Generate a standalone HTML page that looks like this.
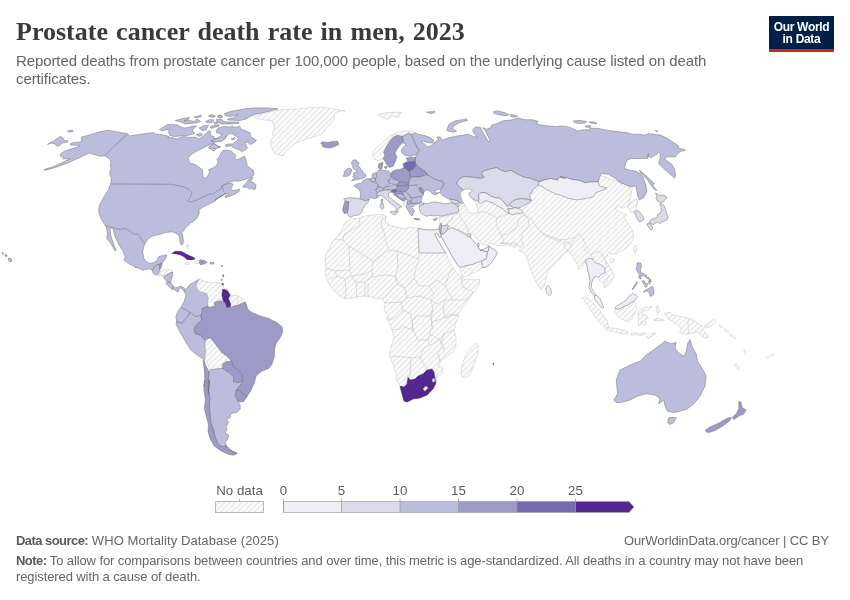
<!DOCTYPE html>
<html lang="en">
<head>
<meta charset="utf-8">
<title>Prostate cancer death rate in men, 2023</title>
<style>
html,body{margin:0;padding:0;background:#fff;}
body{width:850px;height:600px;position:relative;overflow:hidden;font-family:"Liberation Sans",sans-serif;color:#5b5b5b;}
#title{position:absolute;left:16px;top:17px;font-family:"Liberation Serif",serif;font-weight:bold;font-size:26px;line-height:30px;color:#3a3a3a;word-spacing:1.67px;white-space:nowrap;transform-origin:0 50%;}
#subtitle{position:absolute;left:16px;top:52px;font-size:15px;line-height:18px;color:#666;letter-spacing:-0.1px;white-space:nowrap;}
#logo{position:absolute;left:769px;top:16px;width:65px;height:33px;background:#002147;border-bottom:3px solid #ce261e;color:#fff;font-weight:bold;font-size:12px;line-height:12px;text-align:center;letter-spacing:-0.3px;}
#logo span{display:block;}
#logo span:first-child{margin-top:5px;}
.foot{position:absolute;font-size:13px;color:#666;white-space:nowrap;line-height:15.6px;letter-spacing:-0.1px;}
.foot b{color:#5b5b5b;letter-spacing:-0.55px;}
#f1{letter-spacing:0.07px;}
#map{position:absolute;left:0;top:0;}
</style>
</head>
<body>
<svg id="map" width="850" height="600" viewBox="0 0 850 600">
<defs>
<pattern id="hatch" patternUnits="userSpaceOnUse" width="4" height="4" patternTransform="rotate(45)">
<rect width="4" height="4" fill="#fff"/>
<line x1="2" y1="-1" x2="2" y2="5" stroke="#e6e6e6" stroke-width="1.5"/>
</pattern>
</defs>
<g id="countries">
<path d="M439.9,215.9 439,220.9 439.4,225.1 438.7,229.3 440.7,235.1 443.2,240.1 447.4,247.6 451.6,255.2 456.6,263.5 459.9,267.7 460.8,272.7 462.4,277.7 467.4,276 475.8,271.9 482.5,267.7 486.6,266.9 490.8,263.5 494.2,258.5 497.5,252.7 495,250.2 490.8,247.6 489.2,246 484.1,249.3 480,250.2 477.5,246 474.1,241.8 469.9,236.8 472.4,233.4 476.6,238.5 481.6,243.5 487.5,246 490.8,242.6 494.2,244.3 499.2,246 504.2,245.1 510.9,246 515,247.6 517.6,244.3 500,243.4 505,242.6 510,244.2 515,241.7 517.5,245.9 520.9,247.6 519.2,250.9 523.4,252.6 526.7,256.8 528.4,263.4 530.9,270.1 534.2,278.5 537.6,285.2 540.9,289.3 544.3,286 545.9,280.2 546.8,273.5 550.1,268.5 555.1,263.4 559.3,259.3 562.6,255.1 565.2,252.6 568.5,250.9 571,254.3 572.7,255.9 574.3,260.1 577.7,265.1 578.5,269.3 581.9,268.5 583.5,263.4 585.2,260.9 586.9,265.1 587.7,270.1 589.4,276.8 590.2,281 588.9,286.8 591,286.8 591.9,281.8 593.6,277.6 596.9,276 598.6,277.6 600.2,281.8 603.6,283.5 604.4,287.7 608.6,285.2 612.8,280.2 613.6,274.3 611.1,268.5 606.9,262.6 604.4,258.4 606.9,256.8 608.6,252.6 611.9,254.3 616.9,253.4 623.6,250.1 628.6,245.9 632.8,240.1 633.6,234.2 632,229.2 628.6,224.2 626.1,220 623.5,217.6 626.8,215.1 624.3,213.4 619.3,211.7 615.1,209.2 618.5,205.9 622.6,208.4 626,206.7 628.5,204.2 631,208.4 633.5,210.1 636.8,205 637.7,200.9 633.5,200.9 628.5,203.4 631.8,191.7 627.7,185 600,175 560,172 540,182 500,195 470,195 462,200 455,203 458,210Z" fill="url(#hatch)" stroke="#bdbdbd" stroke-width="0.45" stroke-linejoin="round"/>
<path d="M342,230 344,224 351,219 359,218 365,216 374,215 383,214 386,216 385,221 389,225 397,227 404,229 409,227 418,228.4 425,229.6 433,230 439,229 441,236 440,238 437,233 434.6,234 439,242 443,249 446,253 449,260 453,268 457,273 461,277 463,280 469,279 475,280 480,279 479,285 474,292 468,300 462,308 458,314 459,316 456,322 454,330 456,338 456,346 453,352 446,357 440,362 438,366 443,368 442,374 436,378 436,383 433,389 427,395 420,398 413,399 407,402 404,401 402,394 400,386 397,381 396,374 393,364 389.6,356 390,351 392,344 394,337 392,330 390,324 386,318 390,320 386,314 384,309 385,303 382,298 377,299 372,297 365,296 357,297 351,298 345,299 340,296 335,292 331,287 327,280 325,274 326,268 325,260 326,254 329,249 332,242 337,237Z" fill="url(#hatch)" stroke="#bdbdbd" stroke-width="0.45" stroke-linejoin="round"/>
<path d="M461,372 463,362 466,354 471,348 476,343 478,346 478,353 475,362 472,370 469,376 464,378 461.6,376Z" fill="url(#hatch)" stroke="#bdbdbd" stroke-width="0.45" stroke-linejoin="round"/>
<path d="M634.3,246 636.5,245.5 636.5,251 635.2,253.5 633.5,250.2Z" fill="url(#hatch)" stroke="#bdbdbd" stroke-width="0.45" stroke-linejoin="round"/>
<path d="M610.1,259.3 613.5,258.5 614.3,261 611.8,263.2 609.8,261.8Z" fill="url(#hatch)" stroke="#bdbdbd" stroke-width="0.45" stroke-linejoin="round"/>
<path d="M582.5,297.6 586.7,296.7 592.6,302.6 598.4,309.3 603.4,315.1 607.6,321.8 608.4,327.6 605.9,329.3 600.9,324.3 595.1,316.8 590,309.3 585.9,302.6Z" fill="url(#hatch)" stroke="#bdbdbd" stroke-width="0.45" stroke-linejoin="round"/>
<path d="M605.9,327.6 613.4,328.1 620.1,329.3 627.6,331.8 628.5,333.8 621.8,333.5 613.4,331.5 606.8,330.2Z" fill="url(#hatch)" stroke="#bdbdbd" stroke-width="0.45" stroke-linejoin="round"/>
<path d="M631,333.5 636,332.7 636.8,334.3 631.8,335.2Z" fill="url(#hatch)" stroke="#bdbdbd" stroke-width="0.45" stroke-linejoin="round"/>
<path d="M637.7,333.5 645.2,332.7 646,334.3 638.5,336Z" fill="url(#hatch)" stroke="#bdbdbd" stroke-width="0.45" stroke-linejoin="round"/>
<path d="M646,337.7 651,333.5 656,332.7 653.5,335.2 648.5,338.5Z" fill="url(#hatch)" stroke="#bdbdbd" stroke-width="0.45" stroke-linejoin="round"/>
<path d="M615.1,307.6 616.8,309.3 619.3,308.8 623.5,306.8 627.6,305.1 631,302.6 634.3,300.9 636,304.3 636.8,309.3 634.3,314.3 632.6,318.5 628.5,321.8 621.8,319.3 617.6,316 614.8,311.8Z" fill="url(#hatch)" stroke="#bdbdbd" stroke-width="0.45" stroke-linejoin="round"/>
<path d="M637.7,313.4 640.2,309.3 645.2,307.6 651.9,306.8 648.5,309.8 643.5,310.9 641.8,314.3 646,315.1 648.5,318.5 645.2,319.3 646,324.3 643.5,325.1 641.8,321 640.2,325.1 638.2,325.1 638.5,319.3Z" fill="url(#hatch)" stroke="#bdbdbd" stroke-width="0.45" stroke-linejoin="round"/>
<path d="M656,306.8 658.2,305.9 659.4,311.8 657.7,313.4 656.5,310.1Z" fill="url(#hatch)" stroke="#bdbdbd" stroke-width="0.45" stroke-linejoin="round"/>
<path d="M653.5,319.3 656.9,318.5 660.2,318.8 663.6,319.3 664.4,321 658.5,320.5 654.4,320.5Z" fill="url(#hatch)" stroke="#bdbdbd" stroke-width="0.45" stroke-linejoin="round"/>
<path d="M664.4,313.4 670.2,312.1 672.7,315.1 678.6,316 686.9,317.6 694.5,321 702,326 703.6,330.2 708.7,336.8 706.2,338.5 700.3,335.2 697,331.8 691.1,333.5 685.3,334.3 679.4,332.7 681.9,329.3 676.9,325.1 671.9,321 667.7,318.5Z" fill="url(#hatch)" stroke="#bdbdbd" stroke-width="0.45" stroke-linejoin="round"/>
<path d="M687.8,318.1 688.6,333.8" fill="none" stroke="#bdbdbd" stroke-width="0.45"/>
<path d="M704.5,326.5 709.5,325.1 712,323.1 712.8,324.3 710.3,326.5 705.3,327.8Z" fill="url(#hatch)" stroke="#bdbdbd" stroke-width="0.45" stroke-linejoin="round"/>
<path d="M629.4,203.8 633.8,200 636.9,199.4 637.5,203.8 635.6,207.5 636.9,210 634.4,211.9 631.2,212.5 629.4,208.8 626.9,206.9Z" fill="url(#hatch)" stroke="#bdbdbd" stroke-width="0.45" stroke-linejoin="round"/>
<path d="M411.2,134.4 415,132.8 418.8,134.4 425,135.6 430,137.5 433.8,140 432.5,143.1 427.5,142.5 423.8,141.2 421.2,141.9 425,144.4 427.5,146.9 431.2,145.6 433.8,143.1 436.2,141.2 438.8,140 436.9,136.9 440,136.9 442.5,140 443.2,140.1 449.1,137.6 457.4,135.9 463.3,135.1 467.4,134.2 472.4,135.9 477.5,137.6 474.1,133.4 472.4,130.1 475.8,126.7 480.5,127.6 482.5,131.7 485.1,135.9 487.5,140.1 488.7,141.8 489.7,139.8 487.1,134.7 485,130.4 482.8,127.6 486.6,129.2 490.8,127.6 491.7,125.1 497.5,123.4 502.5,120.9 510.9,120 518.4,118 524.2,119.7 532.6,119.7 538.4,121.4 535.9,123.4 540.9,125.1 549.3,125.9 557.6,126.7 560,125.9 566.7,126.4 572.5,128.4 577.5,130.9 583.4,129.7 589.2,130.1 590.1,128.1 598.4,128.4 608.4,130.4 618.5,131.7 626.8,132.6 631.8,134.2 638.5,134.2 645.2,135.1 648.5,133.4 653.6,134.2 660.2,135.1 666.9,138.1 673.6,142.6 678.6,145.9 677.8,147.6 685.3,150.1 680.3,151.5 676.9,154.3 675.3,156.8 668.6,156.8 664.4,157.6 666.9,161 671.1,163.5 674.4,168.5 675.3,173.5 674.9,178.2 670.3,174.3 663.6,168.5 658.6,163.5 660.2,158.5 660.2,153.5 657.7,151.8 656.9,154.3 651,157.6 647.7,156 648.5,153.8 647.7,158.5 640.2,158.5 631.8,158.5 626.8,160.1 625.2,165.2 624.3,168.5 630.2,170.2 635.2,171 640.2,173.5 643.5,178.5 646,185.2 646.9,191.9 643.5,197.7 639.4,199.9 637.7,196.1 636.8,191 636,186 630.2,186.9 625.2,184.4 620.1,182.7 615.1,178.5 608.4,174.3 600.9,173.5 599.3,177.7 598.4,181.9 591.7,181.9 585.1,182.7 578.4,180.2 571.7,179.4 566.7,177.7 560,176.8 557.6,180.2 551,178.5 544.3,179.9 539.3,181.9 530.9,178.5 522.6,176.8 516.7,173.5 510.9,170.2 505.9,171.8 500.8,170.2 496.7,167.7 490.8,168.8 483.3,171 481.6,173.5 484.1,177.2 480.8,178.5 472.4,177.2 464.1,176.5 459.9,178.5 458.2,180.2 456.7,183.3 458.3,185.8 460.8,187.9 463.3,190 464.2,190.6 461.7,192.5 460,195 460.8,197.5 463.3,199.2 465,202.5 463.3,203.3 460,202.9 458.3,201.2 454.2,200 450,199.2 449.2,199.2 445.8,197.5 442.5,195.4 440,192.5 440.8,190.4 440,189.2 441.7,187.9 443.3,185.8 443.8,182.9 441.7,181.2 436.7,180 432.5,178.3 430,176.2 426.7,175 426.9,175 425,171.2 420,168.1 416.2,165 415,161.2 415.6,157.5 416.2,154.4 419.4,150.6 417.5,148.1 415.6,144.4 413.1,138.8Z" fill="#bcbddc" stroke="#666666" stroke-width="0.45" stroke-linejoin="round"/>
<path d="M446.6,130.1 449.1,124.2 454.9,120.9 466.6,118.9 467.4,120.4 459.9,122.6 454.9,125.1 452.4,128.4 456.6,131.4 453.2,132.1 449.1,131.4Z" fill="#bcbddc" stroke="#666666" stroke-width="0.45" stroke-linejoin="round"/>
<path d="M426.5,112 434.9,111.4 434,113 429.8,113.4Z" fill="#bcbddc" stroke="#666666" stroke-width="0.45" stroke-linejoin="round"/>
<path d="M493.3,111.7 497.5,110.9 504.2,112.5 509.2,114.7 506.7,115.9 499.2,114.7 494.2,113.4Z" fill="#bcbddc" stroke="#666666" stroke-width="0.45" stroke-linejoin="round"/>
<path d="M510.5,114.7 515,115 517.6,116.7 513.4,117.2 510.5,116.4Z" fill="#bcbddc" stroke="#666666" stroke-width="0.45" stroke-linejoin="round"/>
<path d="M573.4,120.9 580,120.4 586.7,121.4 585.1,123.1 578.4,123.4 574.2,122.6Z" fill="#bcbddc" stroke="#666666" stroke-width="0.45" stroke-linejoin="round"/>
<path d="M589.2,121.7 595.9,122.2 596.8,123.7 590.1,123.1Z" fill="#bcbddc" stroke="#666666" stroke-width="0.45" stroke-linejoin="round"/>
<path d="M585.1,125.9 590.9,125.4 590.1,127.6 585.9,127.1Z" fill="#bcbddc" stroke="#666666" stroke-width="0.45" stroke-linejoin="round"/>
<path d="M655.2,130.4 657.7,130.9 656.9,132.1Z" fill="#bcbddc" stroke="#666666" stroke-width="0.45" stroke-linejoin="round"/>
<path d="M639.4,170 643.1,173.1 650,179.4 654.4,183.8 652.5,185 656.9,190.6 655,190 651.2,185.6 647.5,180 643.8,176.2 641.2,173.8Z" fill="#bcbddc" stroke="#666666" stroke-width="0.45" stroke-linejoin="round"/>
<path d="M47.5,144.4 51.9,141.9 60.6,136.2 63.1,138.1 64.4,140.6 67.5,140.6 67.5,142.2 62.5,143.1 59.4,145.6 56.9,146.2 54.4,143.8 51.9,143.1Z" fill="#bcbddc" stroke="#666666" stroke-width="0.45" stroke-linejoin="round"/>
<path d="M67.5,131 72.5,130 73.1,131.2 68.8,132Z" fill="#bcbddc" stroke="#666666" stroke-width="0.45" stroke-linejoin="round"/>
<path d="M458.2,180.2 459.9,178.5 464.1,176.5 472.4,177.2 480.8,178.5 484.1,177.2 481.6,173.5 483.3,171 490.8,168.8 496.7,167.7 500.8,170.2 505.9,171.8 510.9,170.2 516.7,173.5 522.6,176.8 530.9,178.5 539.3,181.9 541.5,182.4 539.1,184.7 536.2,187.6 532.6,190 532.1,192.9 529.1,194.7 530.3,197.6 531.5,200.6 527.9,199.4 522.1,198.6 516.2,199.4 512.6,201.2 510.9,202.9 509.1,204.7 507.4,206.5 504.4,202.9 502.1,200.6 499.7,198.2 495,197.6 491.5,196.5 486.8,193.5 483.2,192.4 480.3,193.2 478.5,194.7 479.1,198.8 478.5,201.8 472.6,198.8 469.1,195.9 468.5,192.9 471.5,191.8 472.1,190 467.9,188.8 463.2,190 462.1,190.6 464.2,190.6 463.3,190 460.8,187.9 458.3,185.8 456.7,183.3Z" fill="#dadaeb" stroke="#666666" stroke-width="0.45" stroke-linejoin="round"/>
<path d="M478.5,194.7 480.3,193.2 483.2,192.4 486.8,193.5 491.5,196.5 495,197.6 499.7,198.2 502.1,200.6 504.4,202.9 507.4,206.5 509.1,204.7 511.5,206.5 513.8,207.6 512.6,208.8 509.7,208.8 507.9,208.2 508.5,211.2 509.7,213.5 506.8,212.9 504.4,210 500.9,207.6 496.2,205.3 492.6,202.9 489.1,201.8 486.2,200.6 483.2,201.8 480.3,203.5 478.5,201.8 479.1,198.8Z" fill="#efedf5" stroke="#666666" stroke-width="0.45" stroke-linejoin="round"/>
<path d="M509.1,204.7 510.9,202.9 512.6,201.2 516.2,199.4 522.1,198.6 527.9,199.4 531.5,200.6 529.1,202.9 524.4,205.3 520.9,207.1 517.4,208.2 513.8,207.6 511.5,206.5Z" fill="#dadaeb" stroke="#666666" stroke-width="0.45" stroke-linejoin="round"/>
<path d="M509.7,208.8 512.6,208.8 513.8,207.6 517.4,208.2 520.9,209.4 523.2,212.4 520.3,214.1 516.2,212.9 513.2,214.7 510.3,214.1 508.5,211.2 507.9,208.2Z" fill="#efedf5" stroke="#666666" stroke-width="0.45" stroke-linejoin="round"/>
<path d="M539.3,181.9 544.3,179.9 551,178.5 557.6,180.2 559.3,177.2 565.7,178.5 560,176.8 566.7,177.7 571.7,179.4 578.4,180.2 585.1,182.7 591.7,181.9 598.4,181.9 599.3,186 606.8,187.7 602.6,190.2 595.9,192.7 593.4,196.9 585.1,198.6 576.7,199.9 568.4,198.4 560,195 556,194.2 547.6,190 539.3,185 537.6,185.2Z" fill="#efedf5" stroke="#666666" stroke-width="0.45" stroke-linejoin="round"/>
<path d="M450,199.2 454.2,200 458.3,201.2 460,202.9 457.5,203.3 455,203.8 451.7,202.9 450.8,201.2Z" fill="#dadaeb" stroke="#666666" stroke-width="0.45" stroke-linejoin="round"/>
<path d="M455.4,204.2 457.5,203.3 459.6,205.8 457.9,206.7 456.2,205.4Z" fill="#dadaeb" stroke="#666666" stroke-width="0.45" stroke-linejoin="round"/>
<path d="M419.2,206.7 420.8,204.2 425,203.3 429.2,203.3 432.5,202.1 436.7,202.1 440.8,202.9 445,203.8 449.2,203.3 451.7,202.9 455,203.8 456.2,205.4 457.9,206.7 458.8,209.2 458.3,211.7 456.7,212.5 453.3,213.3 449.2,214.2 445,215.4 441.7,216.2 438.3,215.4 434.2,215.8 430,215.4 426.7,216.2 423.3,215 420.8,212.5 419.6,210Z" fill="#dadaeb" stroke="#666666" stroke-width="0.45" stroke-linejoin="round"/>
<path d="M438.8,229.2 440,225 441.2,222.9 441.7,225.8 441.2,229.2 440.8,233.3 440,234.2 439.2,231.7Z" fill="#bcbddc" stroke="#666666" stroke-width="0.45" stroke-linejoin="round"/>
<path d="M441.7,225.8 445,225.4 447.5,224.6 448.8,226.2 447.1,227.9 448.3,229.2 445.8,231.2 443.8,233.3 441.2,234.2 440.8,233.3 441.2,229.2Z" fill="#dadaeb" stroke="#666666" stroke-width="0.45" stroke-linejoin="round"/>
<path d="M440.7,235.1 444,233.4 448.2,229.3 451.6,227.6 459.1,230.9 466.6,235.1 469.9,236.8 474.1,241.8 477.5,246 480,250.2 487.5,251.8 486.6,258.5 481.6,261 472.4,264.4 464.9,266 459.9,267.7 456.6,263.5 451.6,255.2 447.4,247.6 443.2,240.1Z" fill="#efedf5" stroke="#666666" stroke-width="0.45" stroke-linejoin="round"/>
<path d="M467.8,233.4 470.8,234.3 469.9,236.8 467.1,236Z" fill="#efedf5" stroke="#666666" stroke-width="0.45" stroke-linejoin="round"/>
<path d="M477.5,243.5 479.1,243.1 479.1,246.5 477.8,246.5Z" fill="#efedf5" stroke="#666666" stroke-width="0.45" stroke-linejoin="round"/>
<path d="M480,250.2 484.1,249.3 489.2,246 488.3,251 487.5,251.8Z" fill="#efedf5" stroke="#666666" stroke-width="0.45" stroke-linejoin="round"/>
<path d="M487.5,251.8 488.3,251 489.2,246 490.8,247.6 495,250.2 497.5,252.7 494.2,258.5 490.8,263.5 486.6,266.9 482.5,267.7 481.6,261 486.6,258.5Z" fill="#efedf5" stroke="#666666" stroke-width="0.45" stroke-linejoin="round"/>
<path d="M418,228.4 425,229.6 433,230 439,229 441,236 440,238 437,233 434.6,234 439,242 443,249 446,253 419,253Z" fill="#efedf5" stroke="#666666" stroke-width="0.45" stroke-linejoin="round"/>
<path d="M655.5,193 657,194 660,195.5 664,195 665.5,196 667,198 664.5,199.5 664,201.5 660.5,202.5 657.5,201 656,198.5 657,196Z" fill="#dadaeb" stroke="#666666" stroke-width="0.45" stroke-linejoin="round"/>
<path d="M659.5,204 662,203.5 664.5,206.5 665.5,209.5 666.5,213 668,217.5 667,220 664,221 662,222 660,223.5 658,222 657.5,222 655,223.5 654,224.5 651.5,224 649,222.5 651,219.5 654,218.5 657,217.5 657.5,214.5 660,213.5 661.5,210.5 661,207Z" fill="#dadaeb" stroke="#666666" stroke-width="0.45" stroke-linejoin="round"/>
<path d="M646.5,224 649,223 651,224.5 652.5,227.5 652,230 650.5,229.5 648.5,227Z" fill="#dadaeb" stroke="#666666" stroke-width="0.45" stroke-linejoin="round"/>
<path d="M634.5,212.5 637.5,210.5 640,212.5 642.5,215.5 644,219 641.5,221 639.5,222 637.5,219.5 636,216Z" fill="#dadaeb" stroke="#666666" stroke-width="0.45" stroke-linejoin="round"/>
<path d="M585.2,260.9 588.5,258.4 592.7,258.8 595.2,262.6 600.2,264.3 604.4,267.6 605.2,272.6 601.1,274.3 598.6,277.6 596.9,276 593.6,277.6 591.9,281.8 591,286.8 593.6,291.8 596.1,295.2 594.4,296 591,291.8 588.9,286.8 590.2,281 589.4,276.8 587.7,270.1 586.9,265.1Z" fill="#efedf5" stroke="#666666" stroke-width="0.45" stroke-linejoin="round"/>
<path d="M594.4,296 596.1,295.2 600.2,298.5 602.2,303.5 603.6,307.7 602.2,308.2 598.6,304.4 595.2,300.2Z" fill="#efedf5" stroke="#666666" stroke-width="0.45" stroke-linejoin="round"/>
<path d="M615.1,307.6 619.3,304.3 625.1,300.9 629.3,295.9 632.6,293.4 636,295.1 637.7,297.6 634.3,300.9 631,302.6 627.6,305.1 623.5,306.8 619.3,308.8 616.8,309.3Z" fill="#efedf5" stroke="#666666" stroke-width="0.45" stroke-linejoin="round"/>
<path d="M546.4,286.8 548.4,285.5 551,289.3 551.5,293.5 549.3,295.5 546.8,293.5 545.9,290.2Z" fill="#efedf5" stroke="#666666" stroke-width="0.45" stroke-linejoin="round"/>
<path d="M613.8,400 617.5,393.8 616.2,380 620,370 630,365 640,361.2 646.2,355 655,348.8 660,345 665,341.2 671.2,343.8 676.2,342.5 675,348.8 680,353.8 683.8,356.2 686.2,351.2 687.5,343.8 690,339.5 692.5,347.5 696.2,353.8 697.5,361.2 702.5,368.8 706.2,376.2 705,386.2 700,396.2 693.8,403.8 687.5,408.8 680,411.2 673.8,412.5 667.5,411.2 665,406.2 663.8,400 658.8,403.8 660,398.8 655,395 646.2,393.8 637.5,396.2 630,400 621.2,402.5 616.2,402.5Z" fill="#bcbddc" stroke="#666666" stroke-width="0.45" stroke-linejoin="round"/>
<path d="M668.8,417.5 676.2,417.5 673.8,422.5 670,424.5 667.5,422.5Z" fill="#bcbddc" stroke="#666666" stroke-width="0.45" stroke-linejoin="round"/>
<path d="M738.8,401.2 741.2,402.5 742,407.5 746.2,410 743.8,413.8 738.8,416.2 733.8,419.5 732,417.5 736.2,413.8 738.8,408.8Z" fill="#9e9ac8" stroke="#666666" stroke-width="0.45" stroke-linejoin="round"/>
<path d="M705.5,430 710,427 720,422.5 727.5,418 731.2,417.5 730,420.5 722.5,426.2 715,430.5 708.8,432.5 706.2,432Z" fill="#9e9ac8" stroke="#666666" stroke-width="0.45" stroke-linejoin="round"/>
<path d="M400,386 404,387 407,384 408,377 410,380 415,379 418,376 423,374 427,370 432,369 434,372 435,378 436,383 433,389 427,395 420,398 413,399 407,402 404,401 402,394Z" fill="#54278f" stroke="#3d1c6b" stroke-width="0.45" stroke-linejoin="round"/>
<path d="M423,389 426,386 428,388 425,391Z" fill="#fff" stroke="#bdbdbd" stroke-width="0.45" stroke-linejoin="round"/>
<path d="M432.4,379 434.4,378.4 434.8,381.6 432.8,382Z" fill="#fff" stroke="#bdbdbd" stroke-width="0.45" stroke-linejoin="round"/>
<path d="M492.8,363.2 494,362.8 494,364.4 492.8,364.4Z" fill="#54278f" stroke="none" stroke-width="0.45" stroke-linejoin="round"/>
<path d="M460.3,192.9 463.2,190 467.9,188.8 472.1,190 471.5,191.8 468.5,192.9 469.1,195.9 472.6,199.4 475.6,202.9 477.4,207.6 478.5,211.8 475,213.5 470.3,212.9 467.4,210 465,205.3 462.6,201.2 460.9,197.1Z" fill="#fff" stroke="#b0b0c0" stroke-width="0.45" stroke-linejoin="round"/>
<path d="M439,217 446,216 453,214 459,213" fill="none" stroke="#bdbdbd" stroke-width="0.5"/>
<path d="M453,214 452,220 446,224" fill="none" stroke="#bdbdbd" stroke-width="0.5"/>
<path d="M459,213 461,218 465,224 468,230 469,233" fill="none" stroke="#bdbdbd" stroke-width="0.5"/>
<path d="M446,224 450,227 459,230 467,234" fill="none" stroke="#bdbdbd" stroke-width="0.5"/>
<path d="M477,213 484,211.6 490,214 497,218" fill="none" stroke="#bdbdbd" stroke-width="0.5"/>
<path d="M497,218 496,224 499,231 501,235 504,240 503,244" fill="none" stroke="#bdbdbd" stroke-width="0.5"/>
<path d="M497,218 502,216 508,213.6" fill="none" stroke="#bdbdbd" stroke-width="0.5"/>
<path d="M501,235 508,234 515,229 518,223 519,218 525,215 523,213.6" fill="none" stroke="#bdbdbd" stroke-width="0.5"/>
<path d="M508,213.6 514,215 519,213 523,213.6" fill="none" stroke="#bdbdbd" stroke-width="0.5"/>
<path d="M525,215 529,220 528,227 523,233 521,239 524,246 522,248" fill="none" stroke="#bdbdbd" stroke-width="0.5"/>
<path d="M525,215 532,219 536,226 542,233 551,237 561,240 568,239 575,237" fill="none" stroke="#bdbdbd" stroke-width="0.5"/>
<path d="M542,233 548,237 556,240 561,242 561,240" fill="none" stroke="#bdbdbd" stroke-width="0.5"/>
<path d="M564,243 569,242 571,247 568,251 565,248 564,243" fill="none" stroke="#bdbdbd" stroke-width="0.5"/>
<path d="M571,247 572,243 577,236 580,234" fill="none" stroke="#bdbdbd" stroke-width="0.5"/>
<path d="M580,234 583,239 586,246 589.6,250" fill="none" stroke="#bdbdbd" stroke-width="0.5"/>
<path d="M591,255.1 594.4,252.6 598.6,250.9 601.9,254.3 604.4,258.4" fill="none" stroke="#bdbdbd" stroke-width="0.5"/>
<path d="M591,255.1 592.7,258.8" fill="none" stroke="#bdbdbd" stroke-width="0.5"/>
<path d="M604.4,258.4 606.9,262.6 605.2,270.1 605.2,272.6" fill="none" stroke="#bdbdbd" stroke-width="0.5"/>
<path d="M583.5,246.7 586.9,251.8 591,255.1" fill="none" stroke="#bdbdbd" stroke-width="0.5"/>
<path d="M605.2,272.6 608.6,276 606.9,281 603.6,283.5" fill="none" stroke="#bdbdbd" stroke-width="0.5"/>
<path d="M633.5,210.1 634.8,211.7 637.7,210.1" fill="none" stroke="#bdbdbd" stroke-width="0.5"/>
<path d="M459.9,267.7 464.9,266 472.4,264.4 481.6,261 482.5,267.7" fill="none" stroke="#bdbdbd" stroke-width="0.5"/>
<path d="M359,218 360,225 344,235 343,240" fill="none" stroke="#bdbdbd" stroke-width="0.5"/>
<path d="M335,239 343,240 349,246 350,270 335,271" fill="none" stroke="#bdbdbd" stroke-width="0.5"/>
<path d="M349,246 373,261 389,250 386,243 384,232 381,225 383,214" fill="none" stroke="#bdbdbd" stroke-width="0.5"/>
<path d="M386,216 385,221 389,225" fill="none" stroke="#bdbdbd" stroke-width="0.5"/>
<path d="M389,250 397,251 419,259 419,253" fill="none" stroke="#bdbdbd" stroke-width="0.5"/>
<path d="M373,261 372,270 365,274 351,276 350,270" fill="none" stroke="#bdbdbd" stroke-width="0.5"/>
<path d="M397,251 398,268 395,276 397,280" fill="none" stroke="#bdbdbd" stroke-width="0.5"/>
<path d="M419,259 416,268 414,278 419,286" fill="none" stroke="#bdbdbd" stroke-width="0.5"/>
<path d="M372,270 372,277 385,275 395,276 397,284 391,290 385,298" fill="none" stroke="#bdbdbd" stroke-width="0.5"/>
<path d="M419,286 429,286 437,280 445,286 449,274 453,268" fill="none" stroke="#bdbdbd" stroke-width="0.5"/>
<path d="M445,286 453,300 465,300 473,292 463,287 461,277" fill="none" stroke="#bdbdbd" stroke-width="0.5"/>
<path d="M326,268 335,271 337,276 331,279" fill="none" stroke="#bdbdbd" stroke-width="0.5"/>
<path d="M337,276 345,279 351,276" fill="none" stroke="#bdbdbd" stroke-width="0.5"/>
<path d="M345,279 346,290 345,299" fill="none" stroke="#bdbdbd" stroke-width="0.5"/>
<path d="M351,276 356,282 357,297" fill="none" stroke="#bdbdbd" stroke-width="0.5"/>
<path d="M356,282 365,282 365,296" fill="none" stroke="#bdbdbd" stroke-width="0.5"/>
<path d="M365,282 372,277" fill="none" stroke="#bdbdbd" stroke-width="0.5"/>
<path d="M368,283 368,296.4" fill="none" stroke="#bdbdbd" stroke-width="0.5"/>
<path d="M397,280 405,288 414,278" fill="none" stroke="#bdbdbd" stroke-width="0.5"/>
<path d="M397,284 405,288 407,298 401,302 385,303" fill="none" stroke="#bdbdbd" stroke-width="0.5"/>
<path d="M407,298 419,296 431,300 434,294 429,286" fill="none" stroke="#bdbdbd" stroke-width="0.5"/>
<path d="M431,300 437,304 445,300 453,300" fill="none" stroke="#bdbdbd" stroke-width="0.5"/>
<path d="M445,300 443,310 445,318 457,314" fill="none" stroke="#bdbdbd" stroke-width="0.5"/>
<path d="M431,300 433,310 431,318 433,329.6" fill="none" stroke="#bdbdbd" stroke-width="0.5"/>
<path d="M401,302 403,310 395,318 390,320" fill="none" stroke="#bdbdbd" stroke-width="0.5"/>
<path d="M403,310 411,314 413,329.6" fill="none" stroke="#bdbdbd" stroke-width="0.5"/>
<path d="M390,356 411,357.6 410,377 408,377" fill="none" stroke="#bdbdbd" stroke-width="0.5"/>
<path d="M411,357.6 420,357 427,370" fill="none" stroke="#bdbdbd" stroke-width="0.5"/>
<path d="M420,357 424,348 430,345 428,340 430,334" fill="none" stroke="#bdbdbd" stroke-width="0.5"/>
<path d="M430,345 440,340 442,348 438,353 440,362" fill="none" stroke="#bdbdbd" stroke-width="0.5"/>
<path d="M392,330 400,329 402,326 413,330 418,340 428,340" fill="none" stroke="#bdbdbd" stroke-width="0.5"/>
<path d="M413,330 412,322 416,316 430,316 432,310" fill="none" stroke="#bdbdbd" stroke-width="0.5"/>
<path d="M430,316 432,322 430,334 440,340 444,334 454,330" fill="none" stroke="#bdbdbd" stroke-width="0.5"/>
<path d="M444,334 442,342 445,350 442,348" fill="none" stroke="#bdbdbd" stroke-width="0.5"/>
<path d="M432,322 444,318 450,314 459,316" fill="none" stroke="#bdbdbd" stroke-width="0.5"/>
<path d="M704,325.6 710.3,321.8 714,318.6 716.1,321.8 711.5,325.6 706.5,328.1Z" fill="url(#hatch)" stroke="#d0d0d0" stroke-width="0.45" stroke-linejoin="round"/>
<path d="M719.1,324.3 722.9,326.9 721.6,328.1 718.6,326.1Z" fill="url(#hatch)" stroke="#d0d0d0" stroke-width="0.45" stroke-linejoin="round"/>
<path d="M724.1,328.6 728.6,331.1 727.9,332.6 724.1,330.6Z" fill="url(#hatch)" stroke="#d0d0d0" stroke-width="0.45" stroke-linejoin="round"/>
<path d="M729.7,333.7 734.2,336.2 735.4,338.7 731.7,336.9Z" fill="url(#hatch)" stroke="#d0d0d0" stroke-width="0.45" stroke-linejoin="round"/>
<path d="M743.8,349.5 745,349.5 745.8,354.6 744.3,354.6Z" fill="url(#hatch)" stroke="#d0d0d0" stroke-width="0.45" stroke-linejoin="round"/>
<path d="M734.2,363.9 736.2,363.4 739.7,368.4 738,369.7Z" fill="url(#hatch)" stroke="#d0d0d0" stroke-width="0.45" stroke-linejoin="round"/>
<path d="M766.4,357.1 769.4,355.3 770.7,356.3 767.4,358.8Z" fill="url(#hatch)" stroke="#d0d0d0" stroke-width="0.45" stroke-linejoin="round"/>
<path d="M770.7,354.6 773.7,353.3 774,354.6 771.4,355.8Z" fill="url(#hatch)" stroke="#d0d0d0" stroke-width="0.45" stroke-linejoin="round"/>
<path d="M637,262.9 640.8,262.9 641.5,266.2 640.4,269.2 641.1,272.6 643.8,273.8 646.4,274.9 647.1,277.1 649,277.9 650.9,279.8 651.2,282 650.1,281.6 649,279.4 646.8,278.2 644.9,276.4 642.6,275.6 641.1,276.8 640,275.6 638.9,274.1 637.4,271.5 636.2,269.2 636.9,266.2Z" fill="#bcbddc" stroke="#666666" stroke-width="0.45" stroke-linejoin="round"/>
<path d="M638.5,276 640.4,276.4 641.1,278.6 640,279 638.9,277.5Z" fill="#bcbddc" stroke="#666666" stroke-width="0.45" stroke-linejoin="round"/>
<path d="M642.2,280.5 644.5,281.2 645.2,283.1 647.5,283.5 647.1,285.8 646,287.2 644.9,286.9 644.5,284.6 643,283.5Z" fill="#bcbddc" stroke="#666666" stroke-width="0.45" stroke-linejoin="round"/>
<path d="M648.6,280.9 649.8,281.2 650.1,283.9 649,284.2Z" fill="#bcbddc" stroke="#666666" stroke-width="0.45" stroke-linejoin="round"/>
<path d="M643.4,291.8 645.2,289.9 647.5,289.1 649.8,288 651.6,286.1 653.1,287.2 653.9,290.2 653.9,294 652.8,295.1 651.2,296.6 649.8,295.5 649.4,293.2 648.2,291.8 646.4,291 644.5,292.5Z" fill="#bcbddc" stroke="#666666" stroke-width="0.45" stroke-linejoin="round"/>
<path d="M632.1,289.1 634.8,285 637,281.6 637.6,282.4 635.5,286.1 632.9,289.6Z" fill="#bcbddc" stroke="#666666" stroke-width="0.45" stroke-linejoin="round"/>
<path d="M127.5,133.8 117.5,131.9 108.1,130.2 100,131.6 91.2,134.4 81.9,136.9 81.2,139.4 82.8,141 79.4,141.9 71.2,143 70.2,145 78.8,145.4 80,146.2 72.5,148.5 64.4,151.2 60.2,154 60.6,156.5 63.8,157.5 62.8,159 70.2,158.8 61.2,163.1 52.5,166.9 44.1,169.4 44.8,170.4 56.2,167.2 67.5,163.1 75.6,159.4 83.8,155.6 88.8,153.1 95,154.8 100,156.2 104.8,156 109.4,158.8 111.2,161.9 110,165 111.2,168.5 110,170.6 109.8,175 111.2,177.5 111,182.5 110.9,182.5 108.4,190 103.4,197.6 99.2,205.9 98.7,211.8 100.9,218.4 105,225.1 105.9,226 107.5,233.5 106.7,238.5 110.9,243.5 115.1,251 116.2,250.2 113.4,243.5 110.9,236 110,228.5 112.6,227.6 115.1,236.8 119.2,245.2 123.4,251.9 125.1,256.9 124.2,260.2 128.4,263.6 136.8,267.7 135,267.1 136.7,267.5 140,268.8 142.9,270.4 145.8,269.6 149.2,268.8 152.5,270.4 154.2,267.5 155.4,265.8 160,264.2 162.1,262.9 163.8,261.2 165.8,258.3 166.7,255 162.5,255.4 158.8,256.7 157.1,260 155,262.1 151.7,263.3 148.3,262.9 145.4,261.2 143.8,258.3 143.3,255 142.6,251.9 144.3,245.2 145.1,243.5 147.6,239.3 152.6,236 160.2,234.3 165.2,232.6 171.9,231.8 176.9,233.5 179.4,236.8 180.2,243.5 181.9,245.2 183.6,241.8 182.7,236 181.9,232.6 185.2,228.5 190.2,223.5 196.9,218.4 199.4,212.6 198.6,210.1 203.6,206.8 210.3,203.4 215.3,200.9 217,198.4 223.6,195.1 226.2,193.4 215,200 220,197 224,194 228,193 229,194 225,196 226,197.5 229,196.5 234,194.5 239,191.5 239.5,189 237,190 233,190.5 230.5,189 232,187 233,184 230,183 224,185 221,187 225,184 230,182 235,180.8 240,181 245,179.5 250,177.5 253.5,175.5 254,173 253,170 250,168 247,165 246,160 244.5,156 240,158.5 237,160 235,158.5 235.5,155 234.5,154 232,151.5 227,150 223,150.5 221,153 219,157 217,159.5 218,162.5 216.5,165.5 213,168 208.5,169.5 209.5,172 208,175.5 205,178.2 203,177 202.5,170 199,167 194,164 190,163.5 188,158 192,154 197,151 204,147.5 210,144.5 214,142 220,141 224,139 227,136 226,134.5 222,135.5 218,138 214,139 214,136.5 210,135.5 211,133 210,130.5 207,132.5 204.5,135 202,137 199,139 195,137 190,137.5 184,136.5 180,137.5 177,139 172,137.5 168,138 169,136.5 166,135.5 161,134.5 156,134 153,132.5 150,133 140,134.3 130,135.9Z" fill="#bcbddc" stroke="#666666" stroke-width="0.45" stroke-linejoin="round"/>
<path d="M159.5,129.5 167.5,124.5 177,124.8 180,126.5 184,128 188,127.5 193,126 196.5,126 194,128 192,131 195,133 192,134.5 187,135.5 180,136 174,136.5 170,135.5 168.5,132 169.5,129.5 165,130 162,131Z" fill="#bcbddc" stroke="#666666" stroke-width="0.45" stroke-linejoin="round"/>
<path d="M175.5,120.5 183,118.5 189.5,117.5 188.5,119.5 184,121 190,120.5 194,121.5 196,119.5 198,119.5 200.5,121.5 196,123 190,123.5 185,124 181,122 177,121.2Z" fill="#bcbddc" stroke="#666666" stroke-width="0.45" stroke-linejoin="round"/>
<path d="M194,117 201,115.2 201.5,116.5 197,117.8Z" fill="#bcbddc" stroke="#666666" stroke-width="0.45" stroke-linejoin="round"/>
<path d="M208.5,116 212,114.5 215.5,116 214,117.2 210,117Z" fill="#bcbddc" stroke="#666666" stroke-width="0.45" stroke-linejoin="round"/>
<path d="M218,115.5 220.5,115 222.5,116.5 220,117.5Z" fill="#bcbddc" stroke="#666666" stroke-width="0.45" stroke-linejoin="round"/>
<path d="M205.5,121.5 210,119.5 214,120 212,122.5 207.5,123Z" fill="#bcbddc" stroke="#666666" stroke-width="0.45" stroke-linejoin="round"/>
<path d="M213.5,122.5 217,121.8 218,123 215,124Z" fill="#bcbddc" stroke="#666666" stroke-width="0.45" stroke-linejoin="round"/>
<path d="M199,128 204.5,125.5 208.5,125.5 207,128 206,130 202,130.5Z" fill="#bcbddc" stroke="#666666" stroke-width="0.45" stroke-linejoin="round"/>
<path d="M210,127 215,125 219.5,124.8 219,126 214,127.5 211,128.5Z" fill="#bcbddc" stroke="#666666" stroke-width="0.45" stroke-linejoin="round"/>
<path d="M196.5,134.5 201,133.2 202.5,135 200,136.2 197,135.8Z" fill="#bcbddc" stroke="#666666" stroke-width="0.45" stroke-linejoin="round"/>
<path d="M209,147 213.5,143 217,145.5 220.5,147 215,148 211,149Z" fill="#bcbddc" stroke="#666666" stroke-width="0.45" stroke-linejoin="round"/>
<path d="M212,150.5 215.5,149.5 214,151Z" fill="#bcbddc" stroke="#666666" stroke-width="0.45" stroke-linejoin="round"/>
<path d="M224.5,113.5 230,111.5 236,110.5 243,109 253,108 265,107.8 278,108.8 271,111 262,113 255,114.5 251,116 245,119.5 239,120.5 228,120 227.5,119.2 234,117.5 238,114.5 235,115.5 230,116.5 226,116 224.5,114.5Z" fill="#bcbddc" stroke="#666666" stroke-width="0.45" stroke-linejoin="round"/>
<path d="M217.5,116.5 220.5,115.2 222.5,117 219.5,118Z" fill="#bcbddc" stroke="#666666" stroke-width="0.45" stroke-linejoin="round"/>
<path d="M216.5,119.5 221,119 224,121.5 229,122 239,122 238.5,123.5 230,124 221,124 217,121.5Z" fill="#bcbddc" stroke="#666666" stroke-width="0.45" stroke-linejoin="round"/>
<path d="M216,131 218,128 224,126.5 230,127 233,126 233.5,128 235,127 240,126.5 241,129 246,131 250.5,133 250,136 253,138 256.5,140.5 254,142.5 250.5,144.5 247,142 245,142.5 246,145.5 247.5,148 245,150 242,151.5 238,149.5 233.5,147.5 231.5,146 226,146.5 225,145 228,144 232.5,144 236.5,141 238.5,138.5 236.5,136.5 234,135 233,133.5 229,133.8 226,136 225,139 221,141.5 215,142 211,141 215,139 219,137.5 222,134.5 219,133.5 216.5,132.5Z" fill="#bcbddc" stroke="#666666" stroke-width="0.45" stroke-linejoin="round"/>
<path d="M231,139 234.5,137.5 235.5,138.5 232.5,140Z" fill="#bcbddc" stroke="#666666" stroke-width="0.45" stroke-linejoin="round"/>
<path d="M242.5,186.5 246,183 249,179 252.5,177 252,180 250,181.5 254,182.5 256,185 255.5,189 253,189.5 252,188 249.5,189 247,187 244,187.5Z" fill="#bcbddc" stroke="#666666" stroke-width="0.45" stroke-linejoin="round"/>
<path d="M208.5,147.5 213.5,143.5 217,145.5 220,147.5 215,148.5 210,149Z" fill="#bcbddc" stroke="#666666" stroke-width="0.45" stroke-linejoin="round"/>
<path d="M254.7,117.1 261.8,114.1 271.2,111.2 278.2,110 288.8,109.4 299.4,108.8 311.2,107.6 322.9,107.6 333.5,108.8 339.4,110 345.3,110.8 337.1,111.8 334.7,114.1 334.1,118.8 331.2,123.5 326.5,127.6 324.1,131.8 320.6,134.7 313.5,137.1 306.5,138.8 300.6,141.2 294.7,143.5 290,147.1 285.3,151.8 282.9,155.9 279.4,155.3 274.7,153.5 272.4,149.4 270.6,145.3 271.2,140 273.5,136.5 272.4,132.9 274.7,128.2 273.5,123.5 271.2,120.6 264.1,120 257.1,118.8Z" fill="url(#hatch)" stroke="#bdbdbd" stroke-width="0.45" stroke-linejoin="round"/>
<path d="M320.6,143.5 322.9,141.8 327.6,142.4 332.4,141.4 337.6,141.2 338.8,144.5 334.7,146.5 330,148 325.3,147.6 322.4,146.5 322.9,144.7Z" fill="#9e9ac8" stroke="#666666" stroke-width="0.45" stroke-linejoin="round"/>
<path d="M127.5,133.8 104.4,155.6" fill="none" stroke="#666666" stroke-width="0.45"/>
<path d="M111.4,184 170.2,184.2 176.9,185.4 183.6,186.7 188.6,189.2 191.9,192.6 190.2,197.6 187.7,200.9 190.2,202.1 196.9,200.1 206.9,195.1 213.6,193.4 218.6,190 222.8,187.5 223.6,191.7" fill="none" stroke="#666666" stroke-width="0.45"/>
<path d="M105,225.1 112.6,227.6 118.4,229.3 125.1,228.5 130.1,231 133.4,234.3 137.6,233.5 140.1,236.8 143.5,242.7 145.1,243.5" fill="none" stroke="#666666" stroke-width="0.45"/>
<path d="M8.5,258 11,258.5 12,261 10,262 8.5,260.5Z" fill="#bcbddc" stroke="#666666" stroke-width="0.45" stroke-linejoin="round"/>
<path d="M5,254.5 7,255 7,256.5 5,256Z" fill="#bcbddc" stroke="#666666" stroke-width="0.45" stroke-linejoin="round"/>
<path d="M2,252.5 3.5,253 3.5,254 2,254Z" fill="#bcbddc" stroke="#666666" stroke-width="0.45" stroke-linejoin="round"/>
<path d="M152.5,270.4 154.2,267.5 155.4,265.8 160,264.2 159.6,267.5 160,270 158.8,272.9 157.5,275 154.6,274.6 152.9,272.9Z" fill="#bcbddc" stroke="#666666" stroke-width="0.45" stroke-linejoin="round"/>
<path d="M160,264.2 162.1,262.9 161.7,265.8 160.8,268.3 160,269.2 159.6,267.5Z" fill="#9e9ac8" stroke="#666666" stroke-width="0.45" stroke-linejoin="round"/>
<path d="M157.5,275 158.8,273.8 161.7,275 162.5,276.2 159.2,276.2Z" fill="url(#hatch)" stroke="#bdbdbd" stroke-width="0.45" stroke-linejoin="round"/>
<path d="M158.8,272.9 160.4,270.8 163.3,269.6 168.3,269.2 172.1,270.4 172.9,272.1 170,272.9 167.1,274.6 164.2,276.2 162.5,276.2 161.7,275 158.8,273.8Z" fill="url(#hatch)" stroke="#bdbdbd" stroke-width="0.45" stroke-linejoin="round"/>
<path d="M164.2,276.2 167.1,274.6 170,272.9 172.9,272.1 172.5,275 171.7,279.2 170.4,282.1 167.1,282.1 165.4,280 163.8,277.9Z" fill="#bcbddc" stroke="#666666" stroke-width="0.45" stroke-linejoin="round"/>
<path d="M166.2,282.9 167.1,282.1 170.4,282.1 172.1,284.6 173.3,286.2 172.9,289.2 171.7,289.6 170,287.1 167.9,285.4 166.5,284.6Z" fill="#bcbddc" stroke="#666666" stroke-width="0.45" stroke-linejoin="round"/>
<path d="M172.9,289.2 173.3,286.2 175,287.9 177.5,287.5 180,286.2 182.1,286.7 184.6,288.3 185.4,290.4 184.2,291.7 182.9,289.6 180.8,287.9 178.8,289.2 178.3,291.7 176.2,291.2 174.6,289.6Z" fill="#bcbddc" stroke="#666666" stroke-width="0.45" stroke-linejoin="round"/>
<path d="M171.8,253.4 175.1,251.3 181,251.3 186,253.9 190.2,256 194.3,257.7 194.8,259.2 191,259.9 186.8,259.4 184.3,257 180.1,254.7 176,253.9Z" fill="#54278f" stroke="#3d1c6b" stroke-width="0.45" stroke-linejoin="round"/>
<path d="M194.3,261.7 199.4,260 199.9,263 195.2,263.7Z" fill="url(#hatch)" stroke="#bdbdbd" stroke-width="0.45" stroke-linejoin="round"/>
<path d="M199.9,259.7 204.4,260.4 207.2,262.5 203.5,264.2 200.2,264.7 199.5,262.5Z" fill="#9e9ac8" stroke="#666666" stroke-width="0.45" stroke-linejoin="round"/>
<path d="M185.2,263 188.8,262.5 189.3,264.2 186,264.7Z" fill="url(#hatch)" stroke="#bdbdbd" stroke-width="0.45" stroke-linejoin="round"/>
<path d="M210.2,262.5 213.9,262.5 213.9,264 210.2,264Z" fill="#bcbddc" stroke="#666666" stroke-width="0.45" stroke-linejoin="round"/>
<path d="M221.1,283.4 223.6,283.4 223.2,285.4 221.1,285.1Z" fill="#54278f" stroke="#666666" stroke-width="0.45" stroke-linejoin="round"/>
<path d="M221.6,265.4 222.4,265.4 222.4,266.7 221.6,266.7Z" fill="#9e9ac8" stroke="#666666" stroke-width="0.45" stroke-linejoin="round"/>
<path d="M222.9,274.7 223.7,274.7 223.7,276.7 222.9,276.7Z" fill="#54278f" stroke="#666666" stroke-width="0.45" stroke-linejoin="round"/>
<path d="M221.2,279.2 222.1,279.2 222.1,280.4 221.2,280.4Z" fill="#756bb1" stroke="#666666" stroke-width="0.45" stroke-linejoin="round"/>
<path d="M186.5,245 188.5,245 188.8,248.7 187.2,248.3Z" fill="url(#hatch)" stroke="#bdbdbd" stroke-width="0.45" stroke-linejoin="round"/>
<path d="M184.3,291.8 186,289.3 190.2,284.3 196,280.9 199.4,279.2 197.7,282.6 196,285.9 198.5,290.9 206.9,293.4 208.5,298.5 207.7,303.5 208.5,306.8 203.5,307.6 201.9,311.8 202.7,316.8 201,321 198.5,316.8 193.5,317.7 189.3,312.7 183.5,309.3 181,307.6 184.3,301 186,295.1Z" fill="#bcbddc" stroke="#666666" stroke-width="0.45" stroke-linejoin="round"/>
<path d="M199.4,279.2 203.5,280.9 211,282.6 216.9,282.6 221.9,284.3 224.4,288.4 221.9,293.4 224.4,297.6 220.2,300.1 214.4,302.6 215.2,306.8 211,308.5 208.5,306.8 207.7,303.5 208.5,298.5 206.9,293.4 198.5,290.9 196,285.9 197.7,282.6Z" fill="url(#hatch)" stroke="#bdbdbd" stroke-width="0.45" stroke-linejoin="round"/>
<path d="M222.7,289.3 226.9,290.1 230.3,295.1 228.6,298.5 231.1,303.5 229.9,307.6 226.9,308.1 224.9,303.5 223.2,301 221.9,295.1Z" fill="#54278f" stroke="#3d1c6b" stroke-width="0.45" stroke-linejoin="round"/>
<path d="M230.3,296 236.9,295.1 243.6,299.3 240.3,304.3 235.3,306 231.1,304.3 228.9,298.5Z" fill="url(#hatch)" stroke="#bdbdbd" stroke-width="0.45" stroke-linejoin="round"/>
<path d="M237.8,295.6 236.9,305.5" fill="none" stroke="#c8c8c8" stroke-width="0.45"/>
<path d="M176.7,321.7 181.7,323.4 187.6,316.7 190.1,312.5 185.1,309.2 180.9,307.5 177.5,311.7 175.9,316.7Z" fill="#bcbddc" stroke="#666666" stroke-width="0.45" stroke-linejoin="round"/>
<path d="M175.9,323.4 177.5,327.6 181.7,335.1 186.7,343.4 190.9,350.1 198.4,356 203.8,359.3 205.1,358.5 205.9,351.8 205.1,345.1 205.9,340.1 205.1,340.1 200.1,335.1 195.1,333.4 194.2,328.4 197.6,323.4 201.8,320.9 200.9,315 195.9,316.7 190.1,312.5 187.6,316.7 181.7,323.4 176.7,321.7Z" fill="#bcbddc" stroke="#666666" stroke-width="0.45" stroke-linejoin="round"/>
<path d="M210.1,337.6 215.1,343.4 221.8,352.6 226.8,356 231.8,361 226,361.8 222.6,364.3 221,368.5 213.5,369.3 210.1,370.2 207.6,364.3 205.1,358.5 205.9,351.8 205.1,345.1 205.9,340.1Z" fill="url(#hatch)" stroke="#bdbdbd" stroke-width="0.45" stroke-linejoin="round"/>
<path d="M201.8,308.4 207.6,306.7 210.1,307.5 215.1,305.8 214.3,302.5 220.1,300.8 225.2,302.5 226.8,307.5 231.8,306.7 238.5,305 245.2,301.7 246.9,305.8 247.7,309.2 251.9,312.5 260.2,315.9 268.6,318.4 276.9,322.6 282,326.7 282.8,331.7 280.3,337.6 276.1,343.4 274.4,350.1 274.4,356.8 271.9,364.3 268.6,368.5 261.9,371 256.1,376 254.4,382.7 251,390.2 246.9,396.9 246,396.1 240.2,392.7 236,390.2 238.5,386.9 242.7,380.2 241.9,374.3 236.8,369.3 232.7,366 231.8,361 226.8,356 221.8,352.6 215.1,343.4 210.1,337.6 205.1,340.1 200.1,335.1 195.1,333.4 194.2,328.4 197.6,323.4 201.8,320.9 200.9,315 202.6,311.7Z" fill="#9e9ac8" stroke="#666666" stroke-width="0.45" stroke-linejoin="round"/>
<path d="M222.6,364.3 226,361.8 231.8,361 232.7,366 236.8,369.3 241.9,374.3 242.7,380.2 238.5,382.7 233.5,381.9 233.5,376.8 229.3,372.7 222.6,368.5Z" fill="#9e9ac8" stroke="#666666" stroke-width="0.45" stroke-linejoin="round"/>
<path d="M236,390.9 238.5,390 246,395.9 246.9,396.7 243.5,401.7 238.5,401.7 235.2,395.9Z" fill="#9e9ac8" stroke="#666666" stroke-width="0.45" stroke-linejoin="round"/>
<path d="M210.1,370.2 213.5,369.3 221,368.5 222.6,368.5 229.3,372.7 233.5,376.8 233.5,381.9 238.5,382.7 242.7,380.2 240.2,385.2 236,390.2 235.2,395.2 235.2,395.9 237.7,400.9 240.2,405.1 240.2,409.2 236.8,412.6 231,413.4 230.2,417.6 226.8,419.3 228.5,422.6 226,426.8 226.8,430.1 225.2,432.6 228.5,435.1 227.7,439.3 225.2,442.6 226.8,446 221.8,446.8 217.6,443.5 215.1,436.8 213.5,430.1 211,423.4 210.1,415.1 209.3,406.7 209.8,398.4 208.4,390 209.3,380 208.4,393.6 207.6,386.9 208.4,378.5 209.3,371.8Z" fill="#bcbddc" stroke="#666666" stroke-width="0.45" stroke-linejoin="round"/>
<path d="M203.8,359.3 205.9,366 209.3,371.8 208.4,378.5 207.6,386.9 208.4,393.6 209.3,380 208.4,390 209.8,398.4 209.3,406.7 210.1,415.1 211,423.4 213.5,430.1 215.1,436.8 217.6,443.5 221.8,446.8 226,446 228.5,449.3 233.5,451.8 237.2,453.5 233.5,455.2 228.5,454.3 221,451 214.3,446 210.1,438.5 208.1,431.8 208.4,424.3 206.4,416.8 204.3,408.4 205.4,400 203.8,390 204.8,380 203.8,386.9 204.8,378.5 204.3,370.2 203.1,360.1Z" fill="#9e9ac8" stroke="#666666" stroke-width="0.45" stroke-linejoin="round"/>
<path d="M226,446.5 228.5,449.3 233.5,451.8 237.2,453.5 231.8,451 227.7,446.8Z" fill="#bcbddc" stroke="#666666" stroke-width="0.45" stroke-linejoin="round"/>
<path d="M353.8,185.6 357.5,183.8 361.9,183.1 363.1,180.6 366.9,178.8 369.4,178.8 371.2,181.2 375,182.5 378.1,184.4 376.9,188.1 375.6,190.6 377.5,192.5 376.9,195.6 378.8,196.9 375,198.8 370,197.5 368.8,200 365,200.6 360,198.8 360.6,193.8 359.4,189.4 356.2,187.5Z" fill="#bcbddc" stroke="#666666" stroke-width="0.45" stroke-linejoin="round"/>
<path d="M381.2,199.4 382.8,199 382.5,202.5 381.2,202.2Z" fill="#bcbddc" stroke="#666666" stroke-width="0.45" stroke-linejoin="round"/>
<path d="M343.8,198.8 348.8,197.5 355,198.1 360,198.8 365,200.6 368.8,200 368.1,202.5 365,205.6 362.5,209.4 361.9,212.5 358.8,215 353.8,215.6 350.6,217.5 348.1,215.6 347.5,212.5 348.1,207.5 348.8,201.9 345,201.2Z" fill="#dadaeb" stroke="#666666" stroke-width="0.45" stroke-linejoin="round"/>
<path d="M345,201.2 348.8,201.9 348.1,207.5 347.5,212.5 344.4,213.8 342.5,210 343.8,205Z" fill="#9e9ac8" stroke="#666666" stroke-width="0.45" stroke-linejoin="round"/>
<path d="M369.4,178.8 373.1,177.5 375.6,178.8 375.6,181.2 375,182.5 371.2,181.2Z" fill="#bcbddc" stroke="#666666" stroke-width="0.45" stroke-linejoin="round"/>
<path d="M372.5,173.8 376.2,172.5 376.9,175.6 375.6,178.8 373.1,177.5 371.9,176.2Z" fill="#bcbddc" stroke="#666666" stroke-width="0.45" stroke-linejoin="round"/>
<path d="M376.2,172.5 378.1,170.6 381.9,170 385,170.6 388.8,171.2 390.6,173.8 391.2,177.5 390,179.4 388.1,180.6 390,183.8 388.8,186.2 385,186.9 383.8,188.8 381.2,187.5 378.1,186.9 378.1,184.4 375.6,181.2 375.6,178.8 376.9,175.6Z" fill="#bcbddc" stroke="#666666" stroke-width="0.45" stroke-linejoin="round"/>
<path d="M375.6,190.6 376.9,188.1 378.1,186.9 381.2,187.5 383.8,188.8 382.5,190.6 379.4,191.5 377.5,192.5Z" fill="#bcbddc" stroke="#666666" stroke-width="0.45" stroke-linejoin="round"/>
<path d="M383.8,188.8 385,186.9 388.8,186.2 393.8,184.4 397.5,185.6 396.9,188.1 396.2,190 393.8,190 390,190 386.2,190 382.5,190.6Z" fill="#bcbddc" stroke="#666666" stroke-width="0.45" stroke-linejoin="round"/>
<path d="M377.5,192.5 379.4,191.5 382.5,190.6 386.2,190 390,190 390.6,192.5 388.1,193.1 388.8,196.2 391.9,199.4 396.2,202.5 400,205 401.9,206.9 399.4,207.5 398.1,209.4 397.5,212.5 395.6,211.2 396.2,208.1 393.8,205.6 390,203.1 386.2,199.4 383.1,196.2 380,195.6 376.9,195.6Z" fill="#dadaeb" stroke="#666666" stroke-width="0.45" stroke-linejoin="round"/>
<path d="M390,211.9 393.1,211.2 396.9,212.5 395,215 391.9,213.8Z" fill="#dadaeb" stroke="#666666" stroke-width="0.45" stroke-linejoin="round"/>
<path d="M380.6,203.8 383.1,203.1 383.8,208.1 381.9,209.4 380.2,207.5Z" fill="#dadaeb" stroke="#666666" stroke-width="0.45" stroke-linejoin="round"/>
<path d="M388.1,180.6 390,179.4 393.8,178.8 397.5,180 400,181.9 397.5,183.8 397.5,185.6 393.8,184.4 390,183.8Z" fill="#bcbddc" stroke="#666666" stroke-width="0.45" stroke-linejoin="round"/>
<path d="M390.6,173.8 392.5,171.2 397.5,169.4 403.1,170 408.8,170.6 410,173.8 410.6,177.5 409.4,180.6 408.8,183.1 403.1,182.5 400,181.9 397.5,180 393.8,178.8 391.2,177.5Z" fill="#9e9ac8" stroke="#666666" stroke-width="0.45" stroke-linejoin="round"/>
<path d="M400,181.9 403.1,182.5 408.8,183.1 408.1,185 403.1,185.6 398.8,186.2 397.5,185.6 397.5,183.8Z" fill="#9e9ac8" stroke="#666666" stroke-width="0.45" stroke-linejoin="round"/>
<path d="M432.9,219.6 435.4,218.3 437.5,217.9 436.7,219.6 434.6,220.7Z" fill="#bcbddc" stroke="#666666" stroke-width="0.45" stroke-linejoin="round"/>
<path d="M378.1,114.4 383.8,113.1 390,112.5 396.2,112.2 401.9,112.8 398.8,114.4 399.4,116.9 395.6,117.5 393.8,115.6 390,117.5 388.1,119.4 383.8,118.1 380.6,116.2Z" fill="url(#hatch)" stroke="#bdbdbd" stroke-width="0.45" stroke-linejoin="round"/>
<path d="M372.5,152.5 376.2,148.1 381.2,143.8 386.2,138.8 391.2,135 397.5,132.5 405,130.6 411.2,131.2 415,132.8 412.5,133.8 408.8,133.1 406.2,134.4 402.5,136.2 400,136.2 398.1,135 393.8,136.9 390.6,140 388.1,143.8 385.6,148.1 383.8,152.5 385,155.6 383.1,158.8 378.8,160.6 375,160 373.1,156.9Z" fill="url(#hatch)" stroke="#bdbdbd" stroke-width="0.45" stroke-linejoin="round"/>
<path d="M398.1,135 400,136.2 402.5,136.2 403.1,140.6 402.5,143.1 400,145 396.9,149.4 395,153.1 396.9,156.9 395.6,161.2 393.1,166.2 389.4,167.5 386.9,165 385,161.2 383.1,158.8 385,155.6 383.8,152.5 385.6,148.1 388.1,143.8 390.6,140 393.8,136.9Z" fill="#9e9ac8" stroke="#666666" stroke-width="0.45" stroke-linejoin="round"/>
<path d="M402.5,136.2 406.2,134.4 408.8,133.1 411.2,134.4 413.1,138.8 415.6,144.4 417.5,148.1 419.4,150.6 416.2,154.4 410,156.2 405,155.6 401.9,153.1 401.2,150 403.8,146.9 406.2,143.8 403.1,143.1 403.1,140.6Z" fill="#bcbddc" stroke="#666666" stroke-width="0.45" stroke-linejoin="round"/>
<path d="M406.2,158.1 411.2,157.2 415.6,157.5 415,161.2 411.2,161.9 407.5,161.2Z" fill="#9e9ac8" stroke="#666666" stroke-width="0.45" stroke-linejoin="round"/>
<path d="M403.1,163.8 406.2,161.9 411.2,161.9 415,161.2 416.2,165 415,166.9 412.5,166.2 407.5,165.6 403.8,166.2Z" fill="#756bb1" stroke="#666666" stroke-width="0.45" stroke-linejoin="round"/>
<path d="M403.8,166.2 407.5,165.6 412.5,166.2 415,166.9 413.1,169.4 409.4,171.2 406.2,169.4 404,168.8Z" fill="#756bb1" stroke="#666666" stroke-width="0.45" stroke-linejoin="round"/>
<path d="M401.2,168.1 404,168.1 404,169.8 401.2,169.8Z" fill="#bcbddc" stroke="#666666" stroke-width="0.45" stroke-linejoin="round"/>
<path d="M413.1,169.4 415,166.9 416.2,165 420,168.1 425,171.2 426.9,175 426.9,172.5 424.4,175.6 420,176.9 415,176.9 410.6,177.5 410,173.8 408.8,170.6 409.4,171.2Z" fill="#9e9ac8" stroke="#666666" stroke-width="0.45" stroke-linejoin="round"/>
<path d="M410.6,177.5 415,176.9 420,176.9 424.4,175.6 427.5,175 430,176.2 432.5,178.3 436.7,180 441.7,181.2 443.8,182.9 443.3,185.8 441.7,187.9 440,189.2 437.5,189.6 435,190.8 435,192.5 436.7,192.9 439.6,192.5 438.3,193.8 435,194.6 432.5,194.2 430.8,191.7 427.5,190 425,190.8 423.8,192.9 422.5,192.1 423.3,190.8 421.7,187.9 419.2,185 417.1,185.4 416.2,185 412.5,185.6 408.1,185 408.8,183.1 409.4,180.6Z" fill="#bcbddc" stroke="#666666" stroke-width="0.45" stroke-linejoin="round"/>
<path d="M403.6,202.4 405.4,199.7 407.2,199.4 408.1,200.6 406.9,202.1 407.2,204.2 406,206.3 404.5,205.4 403.6,203.9Z" fill="url(#hatch)" stroke="#bdbdbd" stroke-width="0.45" stroke-linejoin="round"/>
<path d="M406.9,202.1 408.1,201.2 410.8,200.9 411.4,203 409.3,203.9 407.2,204.2Z" fill="#bcbddc" stroke="#666666" stroke-width="0.45" stroke-linejoin="round"/>
<path d="M406,206.3 407.2,204.2 409.3,203.9 411.4,203 413.8,203.3 417.7,202.7 418.6,203.6 416.2,204.5 414.4,204.8 413.2,205.4 414.1,206.6 412.3,206 411.4,207.2 413.2,209 414.7,211.7 413.2,212.6 412.9,215 412,215.9 410.2,214.4 409,212 407.5,209.6 406.3,207.8Z" fill="#bcbddc" stroke="#666666" stroke-width="0.45" stroke-linejoin="round"/>
<path d="M414.1,218.3 416.8,218.6 419.8,218.9 419.5,219.8 416.2,219.8 414.4,219.2Z" fill="#9e9ac8" stroke="#666666" stroke-width="0.45" stroke-linejoin="round"/>
<path d="M419.2,203 421,202.1 423.4,203 424,204.2 422.2,204.8 420.4,205.4 419.2,204.2Z" fill="#dadaeb" stroke="#666666" stroke-width="0.45" stroke-linejoin="round"/>
<path d="M410.8,200.9 411.4,198.8 410.5,197.3 413.2,197.9 416.8,197 421,196.4 422.2,197.9 421.3,199.7 421.6,201.2 419.2,203 417.7,202.7 413.8,203.3 411.4,203Z" fill="#bcbddc" stroke="#666666" stroke-width="0.45" stroke-linejoin="round"/>
<path d="M405.7,191.6 408.4,188.6 408.5,185.5 412.6,185.5 416.5,184.9 418.9,187.4 420.4,191.6 422.2,193.7 423.4,193.1 423.4,195.2 422.2,196.4 421,196.4 416.8,197 413.2,197.9 410.5,197.3 409.3,194.9 407.5,193.7Z" fill="#bcbddc" stroke="#666666" stroke-width="0.45" stroke-linejoin="round"/>
<path d="M402.4,191.6 405.7,191.6 407.5,193.7 409.3,194.9 410.5,197.3 411.4,198.8 410.8,200.9 408.1,201.2 407.2,199.4 405.4,199.7 405.1,197.9 403.6,196.1 403,194Z" fill="#bcbddc" stroke="#666666" stroke-width="0.45" stroke-linejoin="round"/>
<path d="M403,198.5 405.1,197.9 405.4,199.7 404.2,201.2 403,200Z" fill="#bcbddc" stroke="#666666" stroke-width="0.45" stroke-linejoin="round"/>
<path d="M396.1,194.3 398.8,193.4 402.4,194 403,194 403.6,196.1 405.1,197.9 403,198.5 403,200 401.2,198.8 398.5,196.7 396.7,195.5Z" fill="#bcbddc" stroke="#666666" stroke-width="0.45" stroke-linejoin="round"/>
<path d="M393.4,194 395.2,192.5 397,190.7 400,191 402.4,191.6 403,194 402.4,194 398.8,193.4 396.1,194.3 396.7,195.5 398.5,196.7 401.2,198.8 403,200 403.6,201.2 401.2,200 398.2,197.9 395.2,195.5 394,194.9Z" fill="#9e9ac8" stroke="#666666" stroke-width="0.45" stroke-linejoin="round"/>
<path d="M391,190.7 393.4,189.8 396.1,189.5 397,190.7 395.2,192.5 393.4,192.8 391.6,192.5Z" fill="#756bb1" stroke="#666666" stroke-width="0.45" stroke-linejoin="round"/>
<path d="M397,190.7 396.2,190 396.9,188.1 397.5,185.6 398.7,186.3 403.1,185.6 408.5,185 408.4,188.6 405.7,191.6 402.4,191.6 400,191Z" fill="#9e9ac8" stroke="#666666" stroke-width="0.45" stroke-linejoin="round"/>
<path d="M418.9,187.4 419.8,186.8 421.6,188.3 423.1,191 423.4,193.1 422.2,193.7 420.4,191.6Z" fill="#9e9ac8" stroke="#666666" stroke-width="0.45" stroke-linejoin="round"/>
<path d="M351.5,162.8 353,160.1 356,159.8 357.2,161 356,162.2 359,162.5 358.4,164.9 357.5,166.1 359.9,167.3 361.1,169.4 362.6,170.9 363.2,173 365.9,174.5 365.6,176.6 364.4,178.1 360.8,178.7 357.2,179.6 354.2,180.2 352.1,181.1 351.5,180.5 353.9,178.7 355.4,177.8 352.7,176.6 353.9,175.1 353.6,173 356,172.1 357.2,171.2 355.4,170 353.3,168.5 352.4,167 353,165.5 351.8,164.6Z" fill="#bcbddc" stroke="#666666" stroke-width="0.45" stroke-linejoin="round"/>
<path d="M343.1,176.3 344.3,174.2 344,171.8 345.8,170 347.9,168.5 350,168.2 351.5,169.4 351.5,171.2 350.3,173 350.6,174.2 348.8,175.7 345.8,176.6Z" fill="#bcbddc" stroke="#666666" stroke-width="0.45" stroke-linejoin="round"/>
<path d="M378.2,167 378.8,164 381.2,162.8 382.7,162.2 383,164.6 382.1,166.1 382.4,167.9 380.9,169.4 379.4,169.1 378.5,167.9Z" fill="#9e9ac8" stroke="#666666" stroke-width="0.45" stroke-linejoin="round"/>
<path d="M384.2,167 386.6,166.1 387.2,167.9 385.4,168.5Z" fill="#9e9ac8" stroke="#666666" stroke-width="0.45" stroke-linejoin="round"/>
</g>
<g id="legend" font-family="Liberation Sans, sans-serif" font-size="13.3" fill="#5b5b5b">
<rect x="215.5" y="501.5" width="48" height="11" fill="url(#hatch)" stroke="#b9b9b9" stroke-width="1"/>
<line x1="239.5" y1="498.5" x2="239.5" y2="501.5" stroke="#aaa" stroke-width="0.8"/>
<text x="239.5" y="494.5" text-anchor="middle">No data</text>
<rect x="283.5" y="501.5" width="58" height="11" fill="#efedf5"/>
<rect x="341.5" y="501.5" width="58.5" height="11" fill="#dadaeb"/>
<rect x="400" y="501.5" width="58.5" height="11" fill="#bcbddc"/>
<rect x="458.5" y="501.5" width="58.5" height="11" fill="#9e9ac8"/>
<rect x="517" y="501.5" width="58.5" height="11" fill="#756bb1"/>
<path d="M575.5 501.5H629L634 507L629 512.5H575.5Z" fill="#54278f"/>
<path d="M283.5 501.5H629L634 507L629 512.5H283.5Z" fill="none" stroke="#a2a2a2" stroke-width="0.7"/>
<g stroke="#929292" stroke-width="0.7">
<line x1="283.5" y1="498.5" x2="283.5" y2="512.5"/>
<line x1="341.5" y1="498.5" x2="341.5" y2="512.5"/>
<line x1="400" y1="498.5" x2="400" y2="512.5"/>
<line x1="458.5" y1="498.5" x2="458.5" y2="512.5"/>
<line x1="517" y1="498.5" x2="517" y2="512.5"/>
<line x1="575.5" y1="498.5" x2="575.5" y2="512.5"/>
</g>
<text x="283.5" y="494.5" text-anchor="middle">0</text>
<text x="341.5" y="494.5" text-anchor="middle">5</text>
<text x="400" y="494.5" text-anchor="middle">10</text>
<text x="458.5" y="494.5" text-anchor="middle">15</text>
<text x="517" y="494.5" text-anchor="middle">20</text>
<text x="575.5" y="494.5" text-anchor="middle">25</text>
</g>
</svg>
<div id="title">Prostate cancer death rate in men, 2023</div>
<div id="subtitle">Reported deaths from prostate cancer per 100,000 people, based on the underlying cause listed on death<br>certificates.</div>
<div id="logo"><span>Our World</span><span>in Data</span></div>
<div class="foot" id="f1" style="left:16px;top:533px;"><b>Data source:</b> WHO Mortality Database (2025)</div>
<div class="foot" id="f2" style="right:21px;top:533px;">OurWorldinData.org/cancer | CC BY</div>
<div class="foot" id="f3" style="left:16px;top:553px;"><b>Note:</b> To allow for comparisons between countries and over time, this metric is age-standardized. All deaths in a country may not have been<br>registered with a cause of death.</div>
</body>
</html>
